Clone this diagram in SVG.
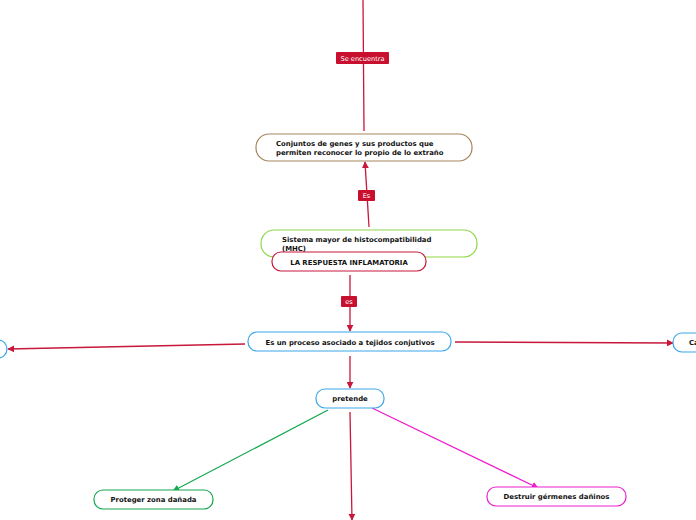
<svg xmlns="http://www.w3.org/2000/svg" width="696" height="520" viewBox="0 0 696 520">
<defs>
<marker id="ar" viewBox="0 0 10 10" refX="9" refY="5" markerWidth="7" markerHeight="7" markerUnits="userSpaceOnUse" orient="auto"><path d="M0,0 L10,5 L0,10 z" fill="#c8173a"/></marker>
<marker id="ag" viewBox="0 0 10 10" refX="9" refY="5" markerWidth="7" markerHeight="7" markerUnits="userSpaceOnUse" orient="auto"><path d="M0,0 L10,5 L0,10 z" fill="#16a84f"/></marker>
<marker id="am" viewBox="0 0 10 10" refX="9" refY="5" markerWidth="7" markerHeight="7" markerUnits="userSpaceOnUse" orient="auto"><path d="M0,0 L10,5 L0,10 z" fill="#ee1dce"/></marker>
</defs>
<style>
.n{fill:#fff;stroke-width:1.2}
.t{font-family:"DejaVu Sans",Verdana,sans-serif;font-weight:bold;font-size:6.9px;fill:#111}
.c{text-anchor:middle}
.r{stroke:#c8173a;stroke-width:1.3;fill:none}
.lb{fill:#c8102e}
.lt{font-family:"DejaVu Sans",Verdana,sans-serif;font-size:6.6px;fill:#fff;text-anchor:middle}
</style>
<rect width="696" height="520" fill="#fff"/>
<g id="connectors">
<line class="r" x1="363" y1="0" x2="364" y2="131"/>
<line class="r" x1="369" y1="227" x2="365" y2="162" marker-end="url(#ar)"/>
<line class="r" x1="350" y1="275" x2="350" y2="331" marker-end="url(#ar)"/>
<line class="r" x1="245" y1="344" x2="8" y2="349" marker-end="url(#ar)"/>
<line class="r" x1="455" y1="342" x2="673" y2="343" marker-end="url(#ar)"/>
<line class="r" x1="350" y1="356" x2="350" y2="388" marker-end="url(#ar)"/>
<line class="r" x1="350" y1="412" x2="352" y2="520" marker-end="url(#ar)"/>
<line x1="328" y1="410" x2="173" y2="491" stroke="#16a84f" stroke-width="1.3" marker-end="url(#ag)"/>
<line x1="372" y1="408" x2="538" y2="488" stroke="#ee1dce" stroke-width="1.3" marker-end="url(#am)"/>
<rect class="lb" x="336" y="52" width="53" height="12" rx="1"/>
<text class="lt" x="362.5" y="60.5">Se encuentra</text>
<rect class="lb" x="358" y="190" width="17" height="11" rx="1"/>
<text class="lt" x="366.5" y="198">Es</text>
<rect class="lb" x="341" y="296" width="16" height="11" rx="1"/>
<text class="lt" x="349" y="304">es</text>
</g>
<g id="n-conjuntos">
<rect class="n" x="256" y="134" width="216" height="27" rx="13" stroke="#a5855e"/>
<text class="t" x="276" y="146">Conjuntos de genes y sus productos que</text>
<text class="t" x="276" y="155">permiten reconocer lo propio de lo extraño</text>
</g>
<g id="n-sistema">
<rect class="n" x="261" y="230" width="216" height="27" rx="13" stroke="#8fd848"/>
<text class="t" x="282" y="242">Sistema mayor de histocompatibilidad</text>
<text class="t" x="282" y="251">(MHC)</text>
</g>
<g id="n-respuesta">
<rect class="n" x="272" y="252" width="154" height="19" rx="9" stroke="#c8173a"/>
<text class="t c" x="349" y="264.5">LA RESPUESTA INFLAMATORIA</text>
</g>
<g id="n-proceso">
<rect class="n" x="248" y="332" width="203" height="19" rx="9" stroke="#3aa6ea"/>
<text class="t c" x="350" y="344.5">Es un proceso asociado a tejidos conjutivos</text>
</g>
<g id="n-left">
<rect class="n" x="-60" y="340" width="67" height="18" rx="9" stroke="#3aa6ea"/>
</g>
<g id="n-right">
<rect class="n" x="673" y="333" width="80" height="19" rx="9" stroke="#3aa6ea"/>
<text class="t" x="689" y="345">Ca</text>
</g>
<g id="n-pretende">
<rect class="n" x="316" y="389" width="68" height="19" rx="9" stroke="#3aa6ea"/>
<text class="t c" x="350" y="401">pretende</text>
</g>
<g id="n-proteger">
<rect class="n" x="94" y="490" width="119" height="19" rx="9" stroke="#16a84f"/>
<text class="t c" x="153.5" y="502">Proteger zona dañada</text>
</g>
<g id="n-destruir">
<rect class="n" x="487" y="487" width="139" height="19" rx="9" stroke="#ee1dce"/>
<text class="t c" x="556.5" y="499">Destruir gérmenes dañinos</text>
</g>
</svg>
